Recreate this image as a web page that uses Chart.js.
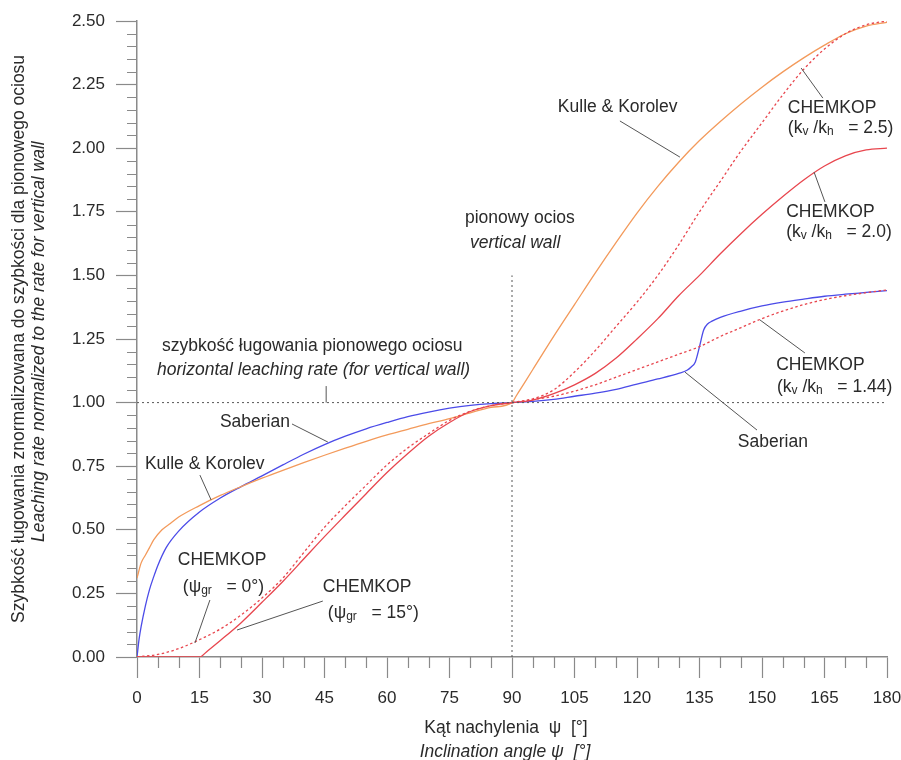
<!DOCTYPE html>
<html>
<head>
<meta charset="utf-8">
<script src="https://cdn.jsdelivr.net/npm/chart.js@4/dist/chart.umd.min.js"></script>
<style>
  body { margin: 0; background: #fff; }
  #wrap { width: 901px; height: 760px; position: relative; }
</style>
</head>
<body>
<div id="wrap"><canvas id="chart"></canvas></div>
<script>
// angle [deg] / normalized leaching rate
const kulleAng = [0, 1, 2, 3, 4, 6, 8, 10, 15, 20, 25, 30, 35, 40, 45, 50, 55, 60, 65, 70, 75, 80, 85, 90,
    91, 92, 95, 100, 105, 110, 115, 120, 125, 130, 135, 140, 145, 150, 155, 160, 165, 170, 175, 180];
const kulleVal = [0.31, 0.37, 0.40, 0.43, 0.46, 0.50, 0.525, 0.55, 0.595, 0.635, 0.67, 0.703, 0.734, 0.764, 0.793, 0.821, 0.848, 0.873, 0.895, 0.917, 0.937, 0.96, 0.981, 1.0,
    1.026, 1.052, 1.13, 1.26, 1.385, 1.51, 1.63, 1.745, 1.85, 1.945, 2.03, 2.105, 2.175, 2.24, 2.30, 2.355, 2.405, 2.45, 2.48, 2.495];

const saberAng = [0, 0.5, 1, 2, 3, 4, 5, 7, 10, 15, 20, 25, 30, 35, 40, 45, 50, 55, 60, 65, 70, 75, 80, 85, 90,
    95, 100, 105, 110, 115, 120, 125, 130, 132, 133, 134, 135, 136, 137, 138, 140, 145, 150, 155, 160, 165, 170, 175, 180];
const saberVal = [0, 0.07, 0.12, 0.20, 0.265, 0.315, 0.36, 0.43, 0.495, 0.57, 0.625, 0.67, 0.712, 0.755, 0.797, 0.835, 0.868, 0.897, 0.922, 0.945, 0.963, 0.978, 0.989, 0.996, 1.0,
    1.005, 1.013, 1.025, 1.037, 1.052, 1.073, 1.093, 1.115, 1.127, 1.14, 1.16, 1.22, 1.285, 1.31, 1.32, 1.335, 1.36, 1.38, 1.395, 1.407, 1.418, 1.426, 1.433, 1.44];

const leftAng = [0, 5, 10, 15, 20, 25, 30, 35, 40, 45, 50, 55, 60, 65, 70, 75, 80, 85, 90];
const psi0Val = [0, 0.01, 0.033, 0.068, 0.11, 0.165, 0.232, 0.31, 0.41, 0.51, 0.595, 0.675, 0.755, 0.822, 0.878, 0.93, 0.966, 0.988, 1.0];

const psi15Ang = [0, 15, 17, 20, 25, 30, 35, 40, 45, 50, 55, 60, 65, 70, 75, 80, 85, 90];
const psi15Val = [0, 0, 0.025, 0.065, 0.135, 0.215, 0.297, 0.385, 0.473, 0.558, 0.642, 0.725, 0.80, 0.868, 0.922, 0.965, 0.988, 1.0];

const rightAng = [90, 95, 100, 105, 110, 115, 120, 125, 130, 135, 140, 145, 150, 155, 160, 165, 170, 175, 180];
const k25Val = [1.0, 1.015, 1.05, 1.12, 1.205, 1.30, 1.395, 1.50, 1.62, 1.75, 1.87, 1.99, 2.10, 2.21, 2.31, 2.39, 2.45, 2.485, 2.50];
const k20Val = [1.0, 1.01, 1.035, 1.07, 1.115, 1.175, 1.25, 1.33, 1.42, 1.50, 1.585, 1.665, 1.74, 1.81, 1.875, 1.93, 1.97, 1.993, 2.0];
const k144Val = [1.0, 1.012, 1.025, 1.045, 1.07, 1.10, 1.13, 1.16, 1.19, 1.22, 1.26, 1.295, 1.33, 1.36, 1.385, 1.405, 1.42, 1.432, 1.443];

const xTicks = [0, 15, 30, 45, 60, 75, 90, 105, 120, 135, 150, 165, 180];

const ORANGE = '#F39A5B';
const RED = '#E8464E';
const BLUE = '#4B4BE8';
const AXIS = '#8a8a8a';
const INK = '#2a2a2a';
const FONT = '"Liberation Sans", Arial, sans-serif';
const TXT = 17.5;

const pts = (a, v) => a.map((x, i) => ({ x: x, y: v[i] }));

function line(data, color, dashed) {
    return {
        data: data,
        borderColor: color,
        borderWidth: 1.3,
        borderDash: dashed ? [2.5, 2.5] : [],
        pointRadius: 0,
        fill: false,
        cubicInterpolationMode: 'monotone'
    };
}

function refLine(data) {
    return { data: data, borderColor: '#555', borderWidth: 1, borderDash: [2, 3], pointRadius: 0, fill: false };
}

// annotation texts, anchored in data units (left edge, vertical middle)
const notes = [
    { at: [78.7, 1.726], parts: [['pionowy ocios']] },
    { at: [79.9, 1.627], parts: [['vertical wall']], italic: true },
    { at: [6.0, 1.222], parts: [['szybkość ługowania pionowego ociosu']] },
    { at: [4.8, 1.128], parts: [['horizontal leaching rate (for vertical wall)']], italic: true },
    { at: [19.9, 0.924], parts: [['Saberian']] },
    { at: [1.9, 0.759], parts: [['Kulle & Korolev']] },
    { at: [9.8, 0.381], parts: [['CHEMKOP']] },
    { at: [11.0, 0.275], parts: [['(ψ'], ['gr', 1], ['   = 0°)']] },
    { at: [44.6, 0.275], parts: [['CHEMKOP']] },
    { at: [45.8, 0.173], parts: [['(ψ'], ['gr', 1], ['   = 15°)']] },
    { at: [101.0, 2.162], parts: [['Kulle & Korolev']] },
    { at: [156.2, 2.158], parts: [['CHEMKOP']] },
    { at: [156.2, 2.079], parts: [['(k'], ['v', 1], [' /k'], ['h', 1], ['   = 2.5)']] },
    { at: [155.8, 1.749], parts: [['CHEMKOP']] },
    { at: [155.8, 1.671], parts: [['(k'], ['v', 1], [' /k'], ['h', 1], ['   = 2.0)']] },
    { at: [153.4, 1.148], parts: [['CHEMKOP']] },
    { at: [153.6, 1.061], parts: [['(k'], ['v', 1], [' /k'], ['h', 1], ['   = 1.44)']] },
    { at: [144.2, 0.845], parts: [['Saberian']] }
];

const leaders = [
    [45.4, 1.065, 45.4, 1.0],
    [37.2, 0.916, 45.8, 0.845],
    [15.1, 0.715, 17.8, 0.617],
    [17.5, 0.224, 13.9, 0.055],
    [44.6, 0.220, 24.0, 0.106],
    [115.9, 2.107, 130.3, 1.965],
    [164.6, 2.197, 159.4, 2.315],
    [165.1, 1.789, 162.5, 1.906],
    [160.3, 1.195, 149.5, 1.325],
    [148.8, 0.892, 131.5, 1.12]
];

const extras = {
    id: 'extras',
    beforeDraw(chart) {
        const c = chart.ctx;
        c.save();
        c.fillStyle = '#fff';
        c.fillRect(0, 0, chart.width, chart.height);
        c.restore();
    },
    afterDraw(chart) {
        const c = chart.ctx;
        const xs = chart.scales.x, ys = chart.scales.y;
        c.save();

        // minor ticks
        c.strokeStyle = AXIS;
        c.lineWidth = 1.2;
        c.beginPath();
        for (let i = 0; i <= 50; i++) {
            if (i % 5 === 0) continue;
            const py = Math.round(ys.getPixelForValue(i * 0.05)) + 0.5;
            c.moveTo(xs.left - 10, py);
            c.lineTo(xs.left, py);
        }
        for (let a = 0; a <= 180; a += 5) {
            if (a % 15 === 0) continue;
            const px = Math.round(xs.getPixelForValue(a)) + 0.5;
            c.moveTo(px, ys.bottom);
            c.lineTo(px, ys.bottom + 11);
        }
        c.stroke();

        // leader lines
        c.strokeStyle = '#555';
        c.lineWidth = 1;
        c.beginPath();
        leaders.forEach(l => {
            c.moveTo(xs.getPixelForValue(l[0]), ys.getPixelForValue(l[1]));
            c.lineTo(xs.getPixelForValue(l[2]), ys.getPixelForValue(l[3]));
        });
        c.stroke();

        // annotation text
        c.fillStyle = INK;
        c.textBaseline = 'middle';
        c.textAlign = 'left';
        notes.forEach(n => {
            let px = xs.getPixelForValue(n.at[0]);
            const py = ys.getPixelForValue(n.at[1]);
            n.parts.forEach(p => {
                const sub = p[1] === 1;
                c.font = (n.italic ? 'italic ' : '') + (sub ? '12px ' : TXT + 'px ') + FONT;
                c.fillText(p[0], px, py + (sub ? 4 : 0));
                px += c.measureText(p[0]).width;
            });
        });

        // axis titles
        c.textAlign = 'center';
        c.font = TXT + 'px ' + FONT;
        c.fillText('Kąt nachylenia  ψ  [°]', 506, 728);
        c.font = 'italic ' + TXT + 'px ' + FONT;
        c.fillText('Inclination angle ψ  [°]', 505, 752);

        c.textAlign = 'left';
        c.save();
        c.translate(19, 623);
        c.rotate(-Math.PI / 2);
        c.font = TXT + 'px ' + FONT;
        c.fillText('Szybkość ługowania znormalizowana do szybkości dla pionowego ociosu', 0, 0);
        c.restore();
        c.save();
        c.translate(39, 542);
        c.rotate(-Math.PI / 2);
        c.font = 'italic ' + TXT + 'px ' + FONT;
        c.fillText('Leaching rate normalized to the rate for vertical wall', 0, 0);
        c.restore();

        c.restore();
    }
};

new Chart(document.getElementById('chart'), {
    type: 'line',
    data: {
        datasets: [
            refLine([{ x: 0, y: 1 }, { x: 180, y: 1 }]),
            refLine([{ x: 90, y: 0 }, { x: 90, y: 1.5 }]),
            line(pts(leftAng, psi0Val), RED, true),
            line(pts(psi15Ang, psi15Val), RED, false),
            line(pts(rightAng, k25Val), RED, true),
            line(pts(rightAng, k20Val), RED, false),
            line(pts(rightAng, k144Val), RED, true),
            line(pts(kulleAng, kulleVal), ORANGE, false),
            line(pts(saberAng, saberVal), BLUE, false)
        ]
    },
    options: {
        responsive: true,
        maintainAspectRatio: false,
        animation: false,
        layout: { padding: { left: 0, right: 14, top: 21, bottom: 0 } },
        plugins: { legend: { display: false }, tooltip: { enabled: false } },
        scales: {
            x: {
                type: 'linear',
                min: 0,
                max: 180,
                afterFit: s => { s.height = 103; s.paddingLeft = 0; s.paddingRight = 0; },
                afterBuildTicks: s => { s.ticks = xTicks.map(v => ({ value: v })); },
                grid: { drawOnChartArea: false, tickLength: 21, tickColor: AXIS, tickWidth: 1.2 },
                border: { color: AXIS, width: 1.5 },
                ticks: { color: INK, font: { size: 17, family: FONT }, padding: 10, maxRotation: 0 }
            },
            y: {
                min: 0,
                max: 2.5,
                afterFit: s => { s.width = 137; s.paddingTop = 0; s.paddingBottom = 0; },
                grid: { drawOnChartArea: false, tickLength: 21, tickColor: AXIS, tickWidth: 1.2 },
                border: { color: AXIS, width: 1.5 },
                ticks: { stepSize: 0.25, color: INK, font: { size: 17, family: FONT }, padding: 11, callback: v => v.toFixed(2) }
            }
        }
    },
    plugins: [extras]
});
</script>
</body>
</html>
